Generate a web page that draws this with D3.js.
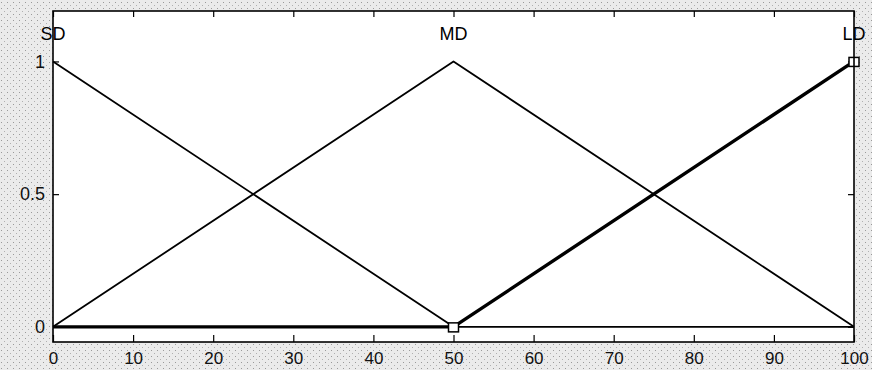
<!DOCTYPE html>
<html>
<head>
<meta charset="utf-8">
<script src="https://cdn.jsdelivr.net/npm/d3@7"></script>
<style>
  body { margin: 0; background: #fff; }
  svg { display: block; }
</style>
</head>
<body>
<div id="chart"></div>
<script>
// Données : fonctions d'appartenance (trimf)
const mfNames = ["SD", "MD", "LD"];
const mfPoints = [
  [[0, 1], [50, 0], [100, 0]],
  [[0, 0], [50, 1], [100, 0]],
  [[0, 0], [50, 0], [100, 1]]
];
const selectedMf = "LD";
const xTicks = [0, 10, 20, 30, 40, 50, 60, 70, 80, 90, 100];
const yTicks = [0, 0.5, 1];
const labelPos = [0, 50, 100];

const width = 872;
const height = 370;
const marginTop = 11;
const marginRight = 18;
const marginBottom = 28;
const marginLeft = 53;

const x = d3.scaleLinear([0, 100], [marginLeft, width - marginRight]);
const y = d3.scaleLinear([-0.057, 1.19], [height - marginBottom, marginTop]);

const svg = d3.create("svg")
    .attr("width", width)
    .attr("height", height)
    .attr("viewBox", [0, 0, width, height])
    .style("font-family", "'Liberation Sans', Arial, sans-serif");

// fond gris tramé
const defs = svg.append("defs");
const pat = defs.append("pattern")
    .attr("id", "dither")
    .attr("width", 6).attr("height", 6)
    .attr("patternUnits", "userSpaceOnUse");
pat.append("rect").attr("width", 6).attr("height", 6).attr("fill", "#ebebeb");
pat.append("rect").attr("x", 1).attr("y", 2).attr("width", 1).attr("height", 1).attr("fill", "#9a9a9a");
pat.append("rect").attr("x", 4).attr("y", 5).attr("width", 1).attr("height", 1).attr("fill", "#b0b0b0");

svg.append("rect")
    .attr("width", width).attr("height", height)
    .attr("fill", "url(#dither)");

svg.append("rect")
    .attr("x", marginLeft).attr("y", marginTop)
    .attr("width", width - marginLeft - marginRight)
    .attr("height", height - marginTop - marginBottom)
    .attr("fill", "#fff");

// Axes (ticks vers l'intérieur)
svg.append("g")
    .attr("transform", `translate(0,${height - marginBottom})`)
    .call(d3.axisBottom(x).tickValues(xTicks).tickSize(-7).tickPadding(10).tickFormat(d3.format("d")))
    .call(g => g.select(".domain").remove())
    .call(g => g.selectAll("line").attr("stroke", "#000").attr("stroke-width", 1.2))
    .call(g => g.selectAll("text").attr("font-size", 17).attr("fill", "#111"));

svg.append("g")
    .attr("transform", `translate(0,${marginTop})`)
    .call(d3.axisTop(x).tickValues(xTicks).tickSize(-6).tickFormat(""))
    .call(g => g.select(".domain").remove())
    .call(g => g.selectAll("line").attr("stroke", "#000").attr("stroke-width", 1.2));

svg.append("g")
    .attr("transform", `translate(${marginLeft},0)`)
    .call(d3.axisLeft(y).tickValues(yTicks).tickSize(-6).tickPadding(8).tickFormat(d => d))
    .call(g => g.select(".domain").remove())
    .call(g => g.selectAll("line").attr("stroke", "#000").attr("stroke-width", 1.2))
    .call(g => g.selectAll("text").attr("font-size", 18).attr("fill", "#111"));

svg.append("g")
    .attr("transform", `translate(${width - marginRight},0)`)
    .call(d3.axisRight(y).tickValues(yTicks).tickSize(-6).tickFormat(""))
    .call(g => g.select(".domain").remove())
    .call(g => g.selectAll("line").attr("stroke", "#000").attr("stroke-width", 1.2));

// Courbes
const line = d3.line()
    .x(d => x(d[0]))
    .y(d => y(d[1]));

const order = mfNames.map((n, i) => i).sort((a, b) => (mfNames[a] === selectedMf) - (mfNames[b] === selectedMf));
svg.append("g")
    .attr("fill", "none")
    .attr("stroke", "#000")
    .attr("stroke-linejoin", "round")
    .selectAll("path")
    .data(order)
    .join("path")
      .attr("stroke-width", i => mfNames[i] === selectedMf ? 3.4 : 1.8)
      .attr("d", i => line(mfPoints[i]));

// Marqueurs carrés de la fonction sélectionnée
const selIdx = mfNames.indexOf(selectedMf);
svg.append("g")
    .selectAll("rect")
    .data(mfPoints[selIdx].filter((d, j) => j > 0))
    .join("rect")
      .attr("x", d => x(d[0]) - 5)
      .attr("y", d => y(d[1]) - 4)
      .attr("width", 10).attr("height", 9)
      .attr("fill", "#fff")
      .attr("stroke", "#000")
      .attr("stroke-width", 1.5);

// Étiquettes
svg.append("g")
    .selectAll("text")
    .data(mfNames)
    .join("text")
      .attr("x", (d, i) => x(labelPos[i]))
      .attr("y", y(1.106))
      .attr("dy", "0.35em")
      .attr("text-anchor", "middle")
      .attr("font-size", 18)
      .attr("fill", "#000")
      .text(d => d);

// Cadre
svg.append("rect")
    .attr("x", marginLeft).attr("y", marginTop)
    .attr("width", width - marginLeft - marginRight)
    .attr("height", height - marginTop - marginBottom)
    .attr("fill", "none")
    .attr("stroke", "#000")
    .attr("stroke-width", 1.6);

document.getElementById("chart").appendChild(svg.node());
</script>
</body>
</html>
